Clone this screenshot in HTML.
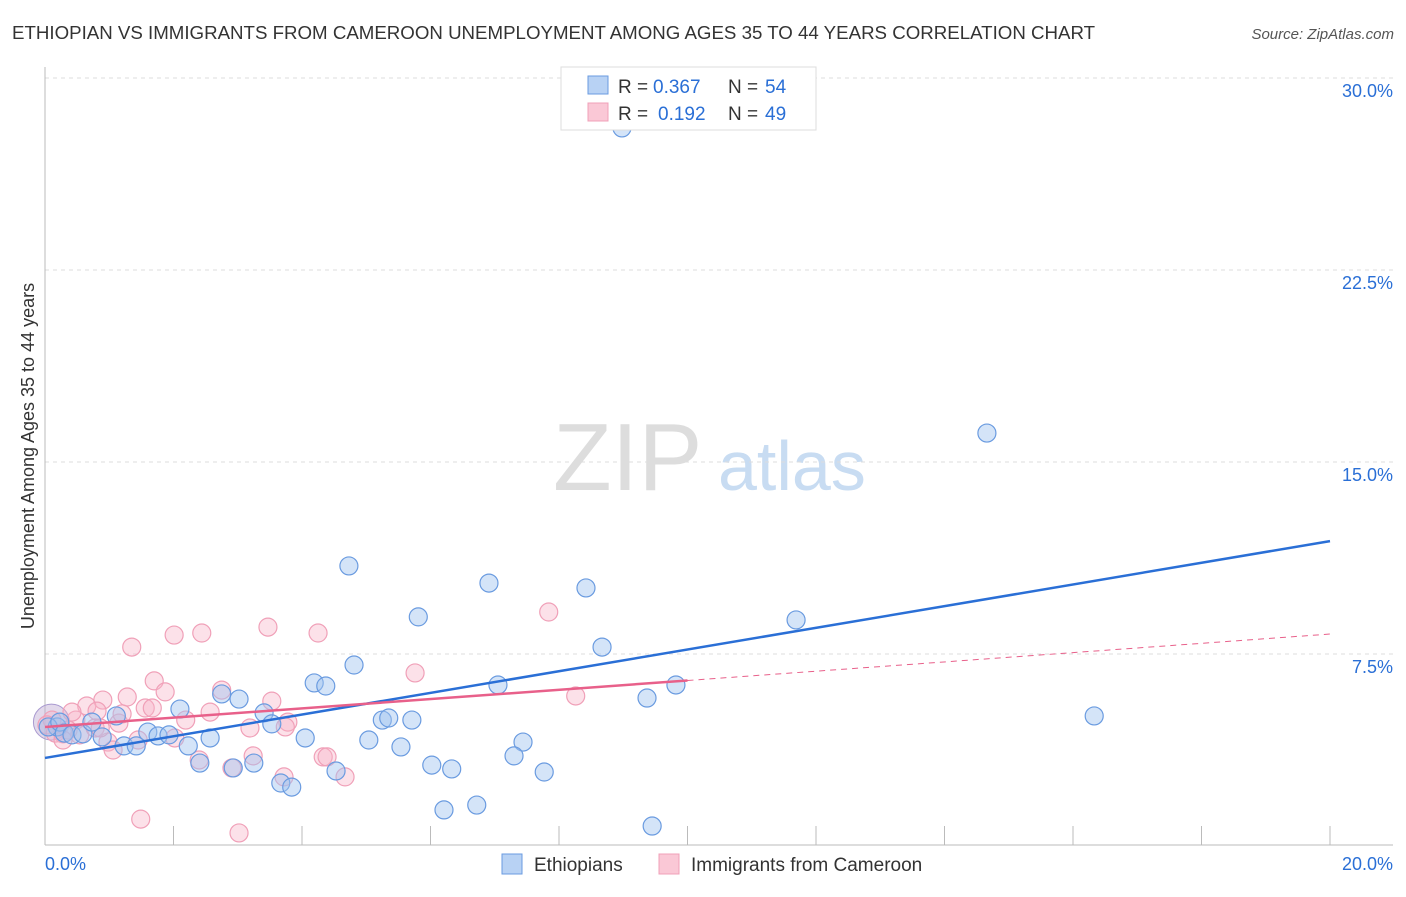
<!DOCTYPE html>
<html><head><meta charset="utf-8"><style>
body{margin:0;background:#fff;font-family:"Liberation Sans",sans-serif}
svg text{font-family:"Liberation Sans",sans-serif}
</style></head><body>
<svg id="chart" width="1406" height="892" viewBox="0 0 1406 892" xmlns="http://www.w3.org/2000/svg">
<text x="12" y="39" font-size="18.7" fill="#333">ETHIOPIAN VS IMMIGRANTS FROM CAMEROON UNEMPLOYMENT AMONG AGES 35 TO 44 YEARS CORRELATION CHART</text>
<text x="1394" y="39" font-size="15" fill="#555" text-anchor="end" font-style="italic">Source: ZipAtlas.com</text>
<g>
<text x="553" y="490" font-size="96" fill="#ddd" font-family="Liberation Serif, serif">ZIP</text>
<text x="718" y="490" font-size="70" fill="#c8dcf2">atlas</text>
</g>
<g id="grid"></g>
<g id="axes"></g>
<g id="marks"></g>
<g id="trends"></g>
<text transform="translate(34,456) rotate(-90)" font-size="18" fill="#333" text-anchor="middle">Unemployment Among Ages 35 to 44 years</text>
<g>
<rect x="561" y="67" width="255" height="63" fill="#fff" stroke="#ddd"/>
<rect x="588" y="76" width="20" height="18" fill="#b8d2f4" stroke="#6a9be0"/>
<rect x="588" y="103" width="20" height="18" fill="#fac8d6" stroke="#f0a0b8"/>
<text x="618" y="93" font-size="19" fill="#333">R =</text>
<text x="653" y="93" font-size="19" fill="#2a6fd6">0.367</text>
<text x="728" y="93" font-size="19" fill="#333">N =</text>
<text x="765" y="93" font-size="19" fill="#2a6fd6">54</text>
<text x="618" y="120" font-size="19" fill="#333">R =</text>
<text x="658" y="120" font-size="19" fill="#2a6fd6">0.192</text>
<text x="728" y="120" font-size="19" fill="#333">N =</text>
<text x="765" y="120" font-size="19" fill="#2a6fd6">49</text>
</g>
<g>
<rect x="502" y="854" width="20" height="20" fill="#b8d2f4" stroke="#6a9be0"/>
<text x="534" y="871" font-size="19" fill="#333">Ethiopians</text>
<rect x="659" y="854" width="20" height="20" fill="#fac8d6" stroke="#f0a0b8"/>
<text x="691" y="871" font-size="19" fill="#333">Immigrants from Cameroon</text>
</g>
</svg>
<script>
const yTicks=[7.5,15,22.5,30];
const yTickLabels=["7.5%","15.0%","22.5%","30.0%"];
const xEndLabels=["0.0%","20.0%"];
const blueX=[8.98,14.66,4.73,6.91,8.42,5.81,11.69,8.67,4.81,4.19,4.37,7.05,9.82,9.37,16.33,2.75,3.02,3.41,2.10,1.11,3.53,5.25,5.35,5.71,1.60,1.76,1.93,0.89,0.19,0.05,0.23,0.30,0.42,0.59,0.73,1.23,1.42,2.23,2.57,4.05,5.04,5.54,7.44,7.30,2.41,3.25,2.93,6.02,6.33,4.53,7.77,3.67,3.84,6.21,6.72,9.45];
const blueY=[28.05,16.13,10.94,10.27,10.08,8.95,8.83,7.77,7.07,6.37,6.25,6.29,6.29,5.78,5.08,5.94,5.74,5.20,5.35,5.08,4.77,4.92,5.00,4.92,4.45,4.30,4.34,4.26,4.65,4.65,4.84,4.41,4.34,4.38,4.84,3.91,3.91,3.91,4.22,4.22,4.14,3.87,4.06,3.52,3.24,3.24,3.05,3.16,3.01,2.93,2.89,2.46,2.30,1.41,1.60,0.78];
const pinkX=[1.35,2.01,2.44,3.47,4.25,7.84,5.76,1.70,1.87,2.75,1.28,0.90,0.65,0.81,1.56,1.67,2.57,3.53,2.19,1.15,1.20,0.48,0.42,0.11,0.03,0.16,0.28,0.36,0.54,0.78,0.98,1.06,1.45,2.02,3.19,3.78,3.74,8.26,2.40,3.24,2.91,4.33,4.39,3.72,4.67,1.49,3.02,0.28,0.86];
const pinkY=[7.77,8.24,8.32,8.55,8.32,9.14,6.76,6.45,6.02,6.09,5.82,5.70,5.47,5.27,5.39,5.39,5.23,5.66,4.92,4.80,5.16,4.92,5.23,4.92,4.73,4.41,4.38,4.53,4.34,4.61,4.06,3.75,4.14,4.22,4.61,4.84,4.65,5.86,3.36,3.52,3.05,3.48,3.48,2.70,2.70,1.05,0.51,4.14,4.61];
const blueTrend=[3.44,11.91];
const pinkTrend=[4.65,8.28];
const pinkSolidEnd=10;
const X0=45,X1=1330,Y0=846,PY=192/7.5;
const sx=v=>X0+(X1-X0)*v/20, sy=v=>Y0-v*PY;
const NS="http://www.w3.org/2000/svg";
function mk(tag,attrs,parent){const e=document.createElementNS(NS,tag);for(const k in attrs)e.setAttribute(k,attrs[k]);document.getElementById(parent).appendChild(e);return e;}
yTicks.forEach((t,i)=>{
 const g=mk('line',{x1:X0,x2:1393,y1:sy(t),y2:sy(t),stroke:'#ddd','stroke-dasharray':'4,4'},'grid');
 
 
 const l=mk('text',{x:1393,y:sy(t)+19,'font-size':18,fill:'#2a6fd6','text-anchor':'end'},'grid');
 l.textContent=yTickLabels[i];
 
 
});
const topLine=mk('line',{x1:X0,x2:1393,y1:78,y2:78,stroke:'#ddd','stroke-dasharray':'4,4'},'grid');


const ya=mk('line',{x1:X0,x2:X0,y1:67,y2:845,stroke:'#bbb'},'axes');


const xa=mk('line',{x1:X0,x2:1393,y1:845,y2:845,stroke:'#bbb'},'axes');


for(let i=1;i<=10;i++){const t=mk('line',{x1:sx(i*2),x2:sx(i*2),y1:826,y2:845,stroke:'#bbb'},'axes');
 
 }
[[0,'start',X0],[1,'end',1393]].forEach(([i,a,x])=>{const t=mk('text',{x:x,y:870,'font-size':18,fill:'#2a6fd6','text-anchor':a},'axes');t.textContent=xEndLabels[i];
 
 });
const big=mk('circle',{cx:sx(0.1),cy:sy(4.84),r:18,fill:'rgba(190,170,210,0.45)',stroke:'#a99ad0'},'marks');


pinkX.forEach((v,i)=>{const c=mk('circle',{cx:sx(v),cy:sy(pinkY[i]),r:9,fill:'rgba(248,180,200,0.4)',stroke:'#f0a0b8','stroke-width':1.2},'marks');
 
 });
blueX.forEach((v,i)=>{const c=mk('circle',{cx:sx(v),cy:sy(blueY[i]),r:9,fill:'rgba(160,196,240,0.45)',stroke:'#6a9be0','stroke-width':1.2},'marks');
 
 });
const bl=mk('line',{x1:sx(0),y1:sy(blueTrend[0]),x2:sx(20),y2:sy(blueTrend[1]),stroke:'#2a6fd6','stroke-width':2.5},'trends');


const pAt=x=>pinkTrend[0]+(pinkTrend[1]-pinkTrend[0])*x/20;
const ps=mk('line',{x1:sx(0),y1:sy(pAt(0)),x2:sx(pinkSolidEnd),y2:sy(pAt(pinkSolidEnd)),stroke:'#e8608a','stroke-width':2.5},'trends');


const pd=mk('line',{x1:sx(pinkSolidEnd),y1:sy(pAt(pinkSolidEnd)),x2:sx(20),y2:sy(pAt(20)),stroke:'#e8608a','stroke-width':1,'stroke-dasharray':'6,5'},'trends');


</script>
</body></html>
